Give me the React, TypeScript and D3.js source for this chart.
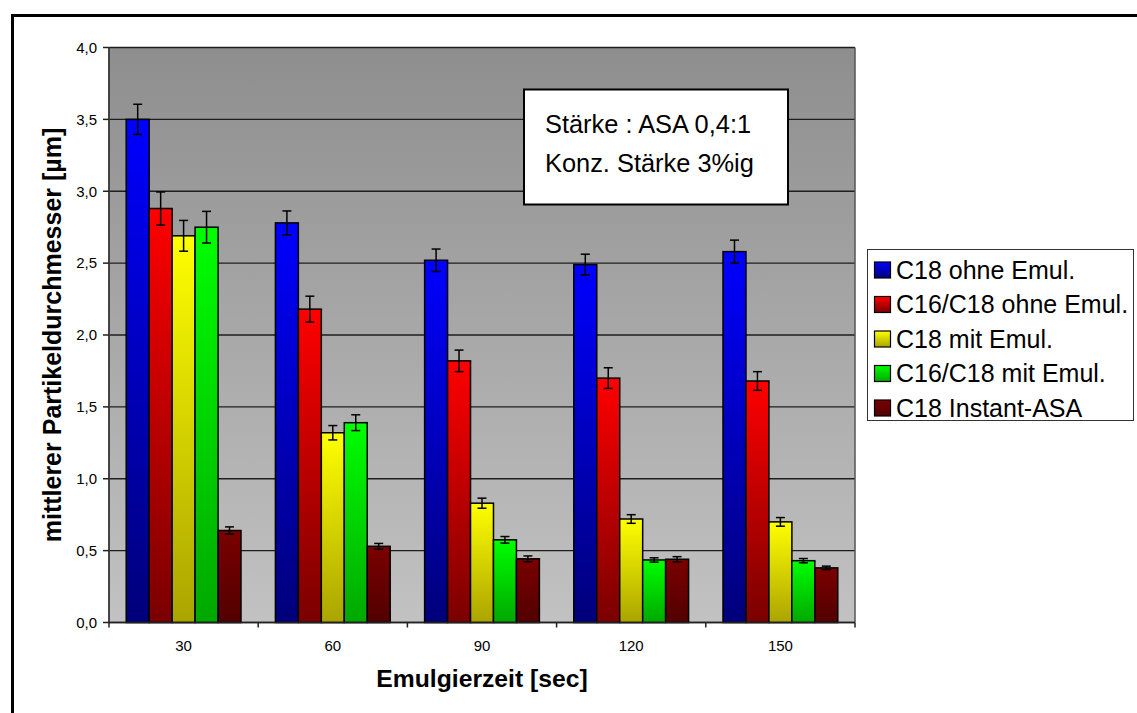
import React from "react";
import * as d3 from "d3";

const categories = ["30", "60", "90", "120", "150"];
const seriesNames = [
  "C18 ohne Emul.",
  "C16/C18 ohne Emul.",
  "C18 mit Emul.",
  "C16/C18 mit Emul.",
  "C18 Instant-ASA",
];
const c18Ohne = [3.5, 2.78, 2.52, 2.49, 2.58];
const c16c18Ohne = [2.88, 2.18, 1.82, 1.7, 1.68];
const c18Mit = [2.69, 1.32, 0.83, 0.72, 0.7];
const c16c18Mit = [2.75, 1.39, 0.575, 0.435, 0.43];
const c18Instant = [0.64, 0.53, 0.443, 0.44, 0.38];

const c18OhneErr = [0.105, 0.083, 0.078, 0.072, 0.08];
const c16c18OhneErr = [0.115, 0.09, 0.075, 0.072, 0.065];
const c18MitErr = [0.107, 0.05, 0.035, 0.03, 0.03];
const c16c18MitErr = [0.11, 0.055, 0.023, 0.015, 0.015];
const c18InstantErr = [0.025, 0.02, 0.02, 0.018, 0.012];

const yTicks = [0, 0.5, 1, 1.5, 2, 2.5, 3, 3.5, 4];

const values = [c18Ohne, c16c18Ohne, c18Mit, c16c18Mit, c18Instant];
const errors = [c18OhneErr, c16c18OhneErr, c18MitErr, c16c18MitErr, c18InstantErr];
const gradColors = [
  ["#0000ff", "#00007a"],
  ["#ff0000", "#7a0000"],
  ["#ffff00", "#aaa400"],
  ["#00ff00", "#00a800"],
  ["#7a0000", "#520000"],
];

const FONT = "'Liberation Sans', Arial, Helvetica, sans-serif";

export default function App() {
  const left = 109;
  const right = 855;
  const top = 47.5;
  const bottom = 622.5;

  const y = d3.scaleLinear().domain([0, 4]).range([bottom, top]);
  const x0 = d3.scaleBand<string>().domain(categories).range([left, right]).padding(0);
  const x1 = d3
    .scaleBand<string>()
    .domain(seriesNames)
    .range([0, x0.bandwidth()])
    .paddingInner(0)
    .paddingOuter(0.75);
  const fmt = (v: number) => d3.format(".1f")(v).replace(".", ",");

  const legendRows = seriesNames.map((n, i) => ({ n, i }));

  return (
    <svg
      width={1137}
      height={713}
      style={{ position: "absolute", left: 0, top: 0, background: "#fff" }}
      fontFamily={FONT}
    >
      <defs>
        <linearGradient id="bg" x1="0" y1="0" x2="0" y2="1">
          <stop offset="0" stopColor="#8e8e8e" />
          <stop offset="1" stopColor="#c2c2c2" />
        </linearGradient>
        {gradColors.map((c, i) => (
          <linearGradient key={i} id={`g${i}`} x1="0" y1="0" x2="0" y2="1">
            <stop offset="0" stopColor={c[0]} />
            <stop offset="1" stopColor={c[1]} />
          </linearGradient>
        ))}
      </defs>

      {/* outer frame */}
      <rect x={12.5} y={15.5} width={1200} height={800} fill="none" stroke="#000" strokeWidth={3} />

      {/* plot area */}
      <rect x={left} y={top} width={right - left} height={bottom - top} fill="url(#bg)" />
      {yTicks.map((t) => (
        <line key={t} x1={left} x2={right} y1={y(t)} y2={y(t)} stroke="#1e1e1e" strokeWidth={1.4} />
      ))}
      <line x1={left} x2={left} y1={top} y2={bottom} stroke="#555" strokeWidth={1.5} />
      <line x1={right} x2={right} y1={top} y2={bottom} stroke="#555" strokeWidth={1.5} />

      {/* bars */}
      {categories.map((c, ci) =>
        seriesNames.map((s, si) => {
          const v = values[si][ci];
          const e = errors[si][ci];
          const bx = (x0(c) as number) + (x1(s) as number);
          const bw = x1.bandwidth();
          const cx = bx + bw / 2;
          return (
            <g key={`${c}-${s}`}>
              <rect
                x={bx}
                y={y(v)}
                width={bw}
                height={y(0) - y(v)}
                fill={`url(#g${si})`}
                stroke="#000"
                strokeWidth={1.5}
              />
              <line x1={cx} x2={cx} y1={y(v + e)} y2={y(v - e)} stroke="#000" strokeWidth={1.5} />
              <line x1={cx - 4.5} x2={cx + 4.5} y1={y(v + e)} y2={y(v + e)} stroke="#000" strokeWidth={1.5} />
              <line x1={cx - 4.5} x2={cx + 4.5} y1={y(v - e)} y2={y(v - e)} stroke="#000" strokeWidth={1.5} />
            </g>
          );
        })
      )}

      {/* axes */}
      <line x1={left} x2={left} y1={top} y2={bottom} stroke="#333" strokeWidth={1.5} />
      <line x1={left} x2={right} y1={bottom} y2={bottom} stroke="#222" strokeWidth={1.5} />
      {yTicks.map((t) => (
        <g key={`yt${t}`}>
          <line x1={left - 6} x2={left} y1={y(t)} y2={y(t)} stroke="#222" strokeWidth={1.5} />
          <text x={97} y={y(t)} dy="0.35em" textAnchor="end" fontSize={15} fill="#000">
            {fmt(t)}
          </text>
        </g>
      ))}
      {[...categories.map((c) => x0(c) as number), right].map((xx, i) => (
        <line key={`xt${i}`} x1={xx} x2={xx} y1={bottom} y2={bottom + 5} stroke="#222" strokeWidth={1.5} />
      ))}
      {categories.map((c) => (
        <text
          key={`xl${c}`}
          x={(x0(c) as number) + x0.bandwidth() / 2}
          y={650.5}
          textAnchor="middle"
          fontSize={15}
          fill="#000"
        >
          {c}
        </text>
      ))}

      {/* axis titles */}
      <text x={(left + right) / 2} y={687} textAnchor="middle" fontSize={24.7} fontWeight="bold">
        Emulgierzeit [sec]
      </text>
      <text
        transform={`translate(61,${(top + bottom) / 2}) rotate(-90)`}
        textAnchor="middle"
        fontSize={25}
        fontWeight="bold"
      >
        mittlerer Partikeldurchmesser [µm]
      </text>

      {/* annotation box */}
      <rect x={524} y={89.5} width={264} height={115} fill="#fff" stroke="#000" strokeWidth={2} />
      <text x={545} y={133} fontSize={25.4}>
        Stärke : ASA 0,4:1
      </text>
      <text x={545} y={172} fontSize={25.4}>
        Konz. Stärke 3%ig
      </text>

      {/* legend */}
      <rect x={867.5} y={249.5} width={266} height={171} fill="#fff" stroke="#333" strokeWidth={1} />
      {legendRows.map(({ n, i }) => {
        const cy = 270 + i * 34.5;
        return (
          <g key={n}>
            <rect x={874.5} y={cy - 8} width={16} height={16} fill={`url(#g${i})`} stroke="#000" strokeWidth={1.2} />
            <text x={896} y={cy} dy="0.35em" fontSize={25}>
              {n}
            </text>
          </g>
        );
      })}
    </svg>
  );
}
